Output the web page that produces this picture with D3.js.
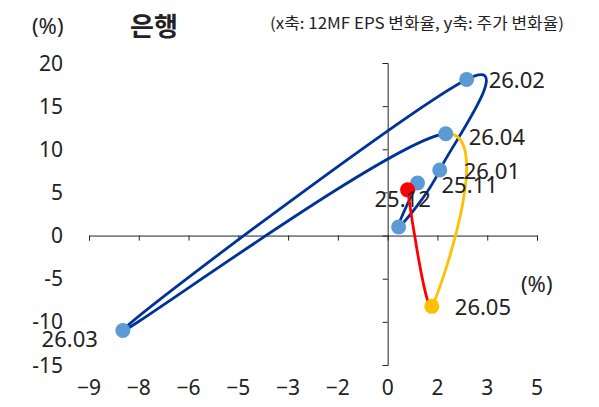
<!DOCTYPE html>
<html>
<head>
<meta charset="utf-8">
<script src="https://d3js.org/d3.v7.min.js"></script>
<style>
  body { margin: 0; background: #fff; font-family: "Noto Sans", "Noto Sans CJK KR", sans-serif; }
  svg text { fill: #222; }
</style>
</head>
<body>
<div id="chart"></div>
<script>
// month labels, x = 12MF EPS change (%), y = share price change (%)
var labels   = ["25.11", "25.12", "26.01", "26.02", "26.03", "26.04", "26.05", ""];
var epsChg   = [0.9, 0.33, 1.57, 2.38, -7.98, 1.75, 1.33, 0.6];
var priceChg = [6.1, 1.0, 7.6, 18.1, -11.0, 11.8, -8.2, 5.3];
var xTicks = [-9, -7.5, -6, -4.5, -3, -1.5, 0, 1.5, 3, 4.5];
var yTicks = [-15, -10, -5, 0, 5, 10, 15, 20];

var W = 599, H = 407;
var svg = d3.select("#chart").append("svg").attr("width", W).attr("height", H);

var x = d3.scaleLinear().domain([-9, 4.5]).range([89, 537]);
var y = d3.scaleLinear().domain([-15, 20]).range([365, 63]);

// titles
svg.append("text").attr("x", 32).attr("y", 34).style("font-size", "22px").text("(%)");
svg.append("text").attr("x", 130).attr("y", 36).style("font-size", "26px")
   .style("font-weight", "bold").style("font-family", "'Noto Sans CJK KR'").text("은행");
svg.append("text").attr("x", 270).attr("y", 29).style("font-size", "15.5px")
   .attr("textLength", 294).attr("lengthAdjust", "spacingAndGlyphs")
   .style("font-family", "'Noto Sans CJK KR'").text("(x축: 12MF EPS 변화율, y축: 주가 변화율)");
svg.append("text").attr("x", 521).attr("y", 292).style("font-size", "22px").text("(%)");

// axes crossing at 0
svg.append("g").attr("transform", "translate(0," + y(0) + ")")
  .call(d3.axisBottom(x).tickValues(xTicks).tickSize(5).tickSizeOuter(5).tickFormat(""));
svg.append("g").attr("transform", "translate(" + x(0) + ",0)")
  .call(d3.axisLeft(y).tickValues(yTicks).tickSize(5).tickSizeOuter(5).tickFormat(""));
svg.selectAll(".domain, .tick line").attr("stroke", "#222").attr("stroke-width", 1);

// tick labels at low position
svg.append("g").selectAll("text").data(xTicks).enter().append("text")
  .attr("x", function(d) { return x(d); }).attr("y", 395)
  .attr("text-anchor", "middle").style("font-size", "21px")
  .text(function(d) { return d3.format(".0f")(d); });
svg.append("g").selectAll("text").data(yTicks).enter().append("text")
  .attr("x", 63).attr("y", function(d) { return y(d) + 7.5; })
  .attr("text-anchor", "end").style("font-size", "21px")
  .text(function(d) { return d; });

var pts = labels.map(function(l, i) { return {label: l, x: epsChg[i], y: priceChg[i]}; });

// record the smoothed path so each segment can get its own colour
var segs = [], cur = null;
var rec = {
  moveTo: function(a, b) { cur = [a, b]; },
  lineTo: function(a, b) { segs.push("M" + cur + "L" + a + "," + b); cur = [a, b]; },
  bezierCurveTo: function(a, b, c, d, e, f) {
    segs.push("M" + cur + "C" + [a, b, c, d, e, f].join(",")); cur = [e, f];
  },
  closePath: function() {}
};
d3.line().x(function(d) { return x(d.x); }).y(function(d) { return y(d.y); })
  .curve(d3.curveCatmullRom.alpha(0)).context(rec)(pts);

var segColor = function(i) { return i == 5 ? "#ffc000" : i == 6 ? "#ff0000" : "#003399"; };
svg.append("g").selectAll("path").data(segs).enter().append("path")
  .attr("d", function(d) { return d; })
  .attr("fill", "none").attr("stroke-width", 2.8)
  .attr("stroke", function(d, i) { return segColor(i); });

var ptColor = function(i) { return i == 6 ? "#ffc000" : i == 7 ? "#ff0000" : "#5b9bd5"; };
svg.append("g").selectAll("circle").data(pts).enter().append("circle")
  .attr("cx", function(d) { return x(d.x); }).attr("cy", function(d) { return y(d.y); })
  .attr("r", 7.5).attr("fill", function(d, i) { return ptColor(i); });

// point labels
var off = {"25.11": [24, 10, "start"], "25.12": [4, -20, "middle"], "26.01": [24, 9, "start"],
           "26.02": [22, 9, "start"], "26.03": [-25, 17, "end"], "26.04": [23, 11, "start"],
           "26.05": [23, 9, "start"]};
svg.append("g").selectAll("text").data(pts.filter(function(d) { return d.label; }))
  .enter().append("text")
  .attr("x", function(d) { return x(d.x) + off[d.label][0]; })
  .attr("y", function(d) { return y(d.y) + off[d.label][1]; })
  .attr("text-anchor", function(d) { return off[d.label][2]; })
  .style("font-size", "22px")
  .text(function(d) { return d.label; });
</script>
</body>
</html>
